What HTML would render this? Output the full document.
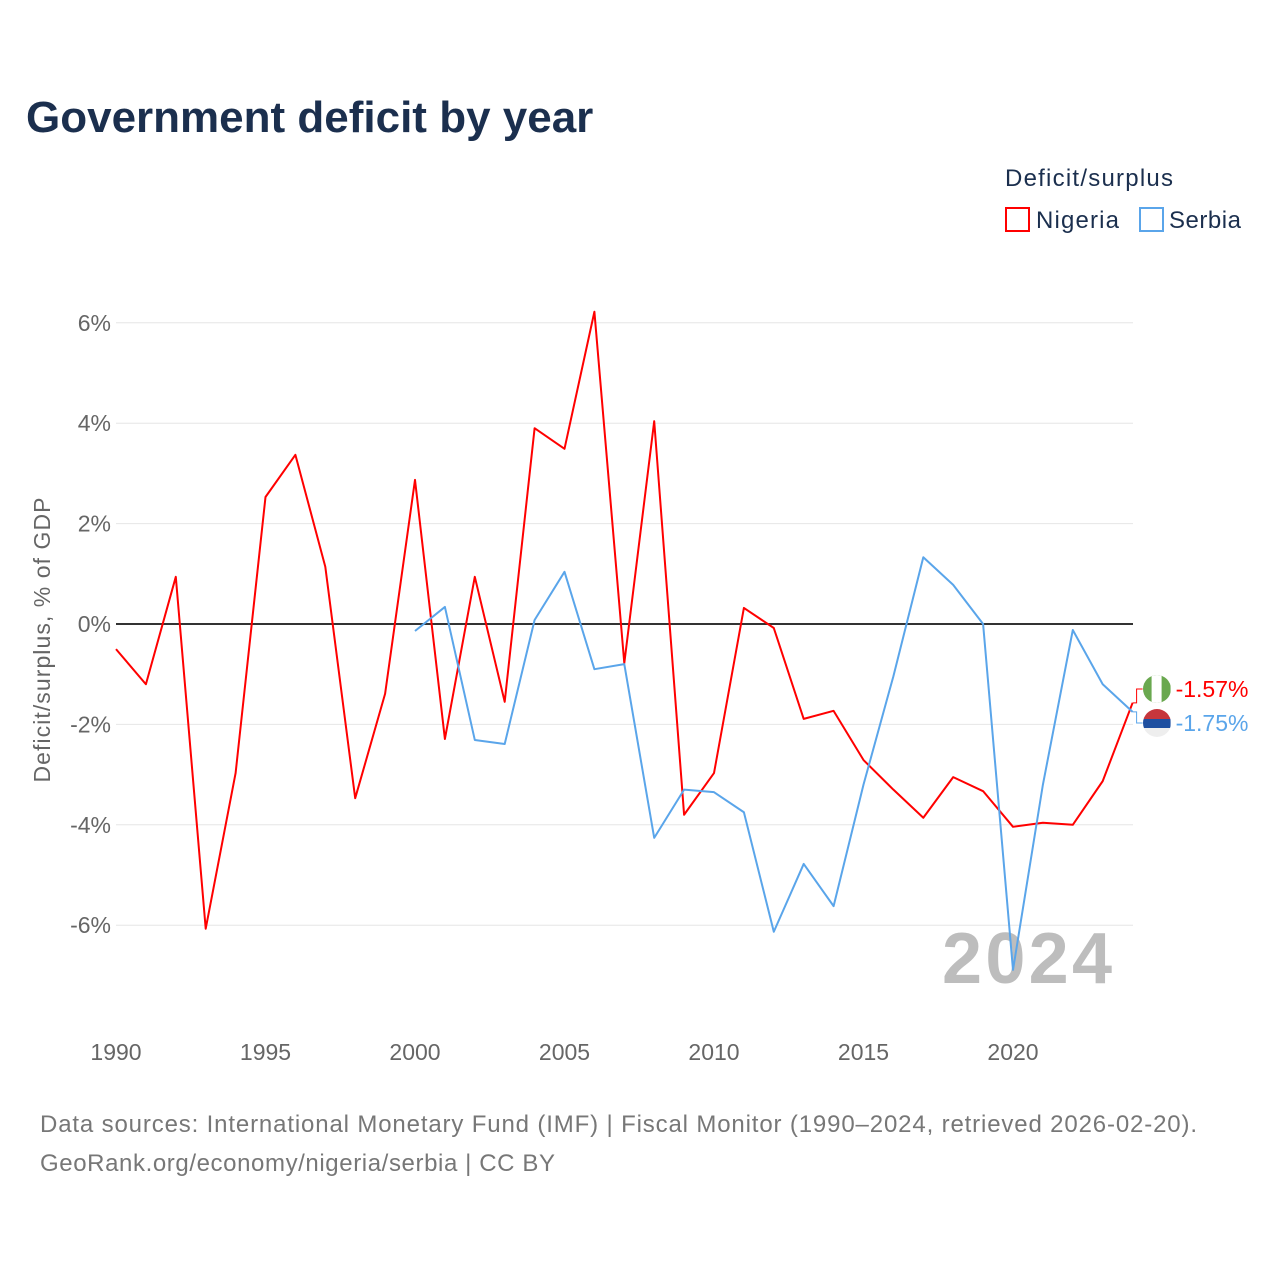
<!DOCTYPE html>
<html><head><meta charset="utf-8"><style>
body{margin:0;background:#fff;font-family:"Liberation Sans",sans-serif}
</style></head><body>
<svg id="c" width="1280" height="1280" xmlns="http://www.w3.org/2000/svg">
<defs>
<clipPath id="cpN"><circle cx="1157" cy="689" r="14"/></clipPath>
<clipPath id="cpS"><circle cx="1157" cy="723" r="14"/></clipPath>
</defs>
<text x="26" y="132" font-size="44" font-weight="bold" fill="#1b2f4e">Government deficit by year</text>
<text x="1005" y="186" font-size="24" fill="#1b2f4e" textLength="168">Deficit/surplus</text>
<g><rect x="1006" y="208" width="23" height="23" fill="none" stroke="#f00" stroke-width="2"/><text x="1036" y="228" font-size="24" fill="#1b2f4e" textLength="83">Nigeria</text></g>
<g><rect x="1140" y="208" width="23" height="23" fill="none" stroke="#5aa5ea" stroke-width="2"/><text x="1169" y="228" font-size="24" fill="#1b2f4e" textLength="72">Serbia</text></g>
<g id="grid"></g>
<text x="1112" y="983" font-size="72" font-weight="bold" fill="#bdbdbd" text-anchor="end" textLength="170">2024</text>
<g id="series"></g>
<text transform="translate(50,640) rotate(-90)" font-size="23" fill="#666" text-anchor="middle" textLength="285">Deficit/surplus, % of GDP</text>
<text x="40" y="1132" font-size="24" fill="#777" textLength="1157">Data sources: International Monetary Fund (IMF) | Fiscal Monitor (1990–2024, retrieved 2026-02-20).</text>
<text x="40" y="1171" font-size="24" fill="#777" textLength="515">GeoRank.org/economy/nigeria/serbia | CC BY</text>
</svg>
<script>
const yTicks=[6,4,2,0,-2,-4,-6];
const xTicks=[1990,1995,2000,2005,2010,2015,2020];
const nigeriaYears=[1990,1991,1992,1993,1994,1995,1996,1997,1998,1999,2000,2001,2002,2003,2004,2005,2006,2007,2008,2009,2010,2011,2012,2013,2014,2015,2016,2017,2018,2019,2020,2021,2022,2023,2024];
const nigeriaValues=[-0.5,-1.2,0.94,-6.07,-2.97,2.53,3.37,1.14,-3.47,-1.39,2.87,-2.29,0.94,-1.55,3.9,3.49,6.22,-0.78,4.04,-3.8,-2.97,0.32,-0.08,-1.89,-1.73,-2.71,-3.3,-3.86,-3.05,-3.33,-4.04,-3.96,-4.0,-3.13,-1.57];
const serbiaYears=[2000,2001,2002,2003,2004,2005,2006,2007,2008,2009,2010,2011,2012,2013,2014,2015,2016,2017,2018,2019,2020,2021,2022,2023,2024];
const serbiaValues=[-0.14,0.34,-2.31,-2.39,0.08,1.04,-0.9,-0.8,-4.26,-3.3,-3.35,-3.75,-6.13,-4.78,-5.62,-3.2,-1.04,1.33,0.78,0,-6.89,-3.2,-0.12,-1.2,-1.75];
const NS="http://www.w3.org/2000/svg";
const X=yr=>116+(yr-1990)*29.9;
const Y=v=>624-v*50.2;
function mk(t,a,p){const e=document.createElementNS(NS,t);for(const k in a)e.setAttribute(k,a[k]);p.appendChild(e);return e;}
const grid=document.getElementById('grid');
yTicks.forEach(v=>{
 const l=mk('line',{x1:116,x2:1133,y1:Y(v),y2:Y(v),stroke:v===0?'#333':'#e6e6e6','stroke-width':v===0?2:1},grid);
 
 
 const t=mk('text',{x:111,y:Y(v)+8,'font-size':23,fill:'#666','text-anchor':'end'},grid);
 t.textContent=v+'%';
 
 
});
xTicks.forEach(yr=>{
 const t=mk('text',{x:X(yr),y:1060,'font-size':23,fill:'#666','text-anchor':'middle'},grid);
 t.textContent=yr;
 
 
});
const sg=document.getElementById('series');
function line(years,vals,col,name,ly){
 const p=mk('polyline',{points:years.map((y,i)=>X(y)+','+Y(vals[i])).join(' '),fill:'none',stroke:col,'stroke-width':2,'stroke-linejoin':'round'},sg);
 
 
 const lx=X(years[years.length-1]),lv=vals[vals.length-1];
 mk('polyline',{points:`${lx},${Y(lv)} ${lx+4},${Y(lv)} ${lx+4},${ly} ${lx+10},${ly}`,fill:'none',stroke:col,'stroke-width':1},sg);
 const g=mk('g',{'clip-path':name==='nigeria'?'url(#cpN)':'url(#cpS)'},sg);
 
 
 if(name==='nigeria'){
  mk('rect',{x:lx+10,y:ly-14,width:28,height:28,fill:'#6aa84f'},g);
  mk('rect',{x:lx+19,y:ly-14,width:10,height:28,fill:'#fff'},g);
 } else {
  mk('rect',{x:lx+10,y:ly-14,width:28,height:10,fill:'#c6363c'},g);
  mk('rect',{x:lx+10,y:ly-4,width:28,height:9,fill:'#1e4fa0'},g);
  mk('rect',{x:lx+10,y:ly+5,width:28,height:9,fill:'#eee'},g);
 }
 const t=mk('text',{x:lx+43,y:ly+8,'font-size':23,fill:col},sg);
 t.textContent=lv.toFixed(2)+'%';
 
 
}
line(nigeriaYears,nigeriaValues,'#f00','nigeria',689);
line(serbiaYears,serbiaValues,'#5aa5ea','serbia',723);
</script>
</body></html>
